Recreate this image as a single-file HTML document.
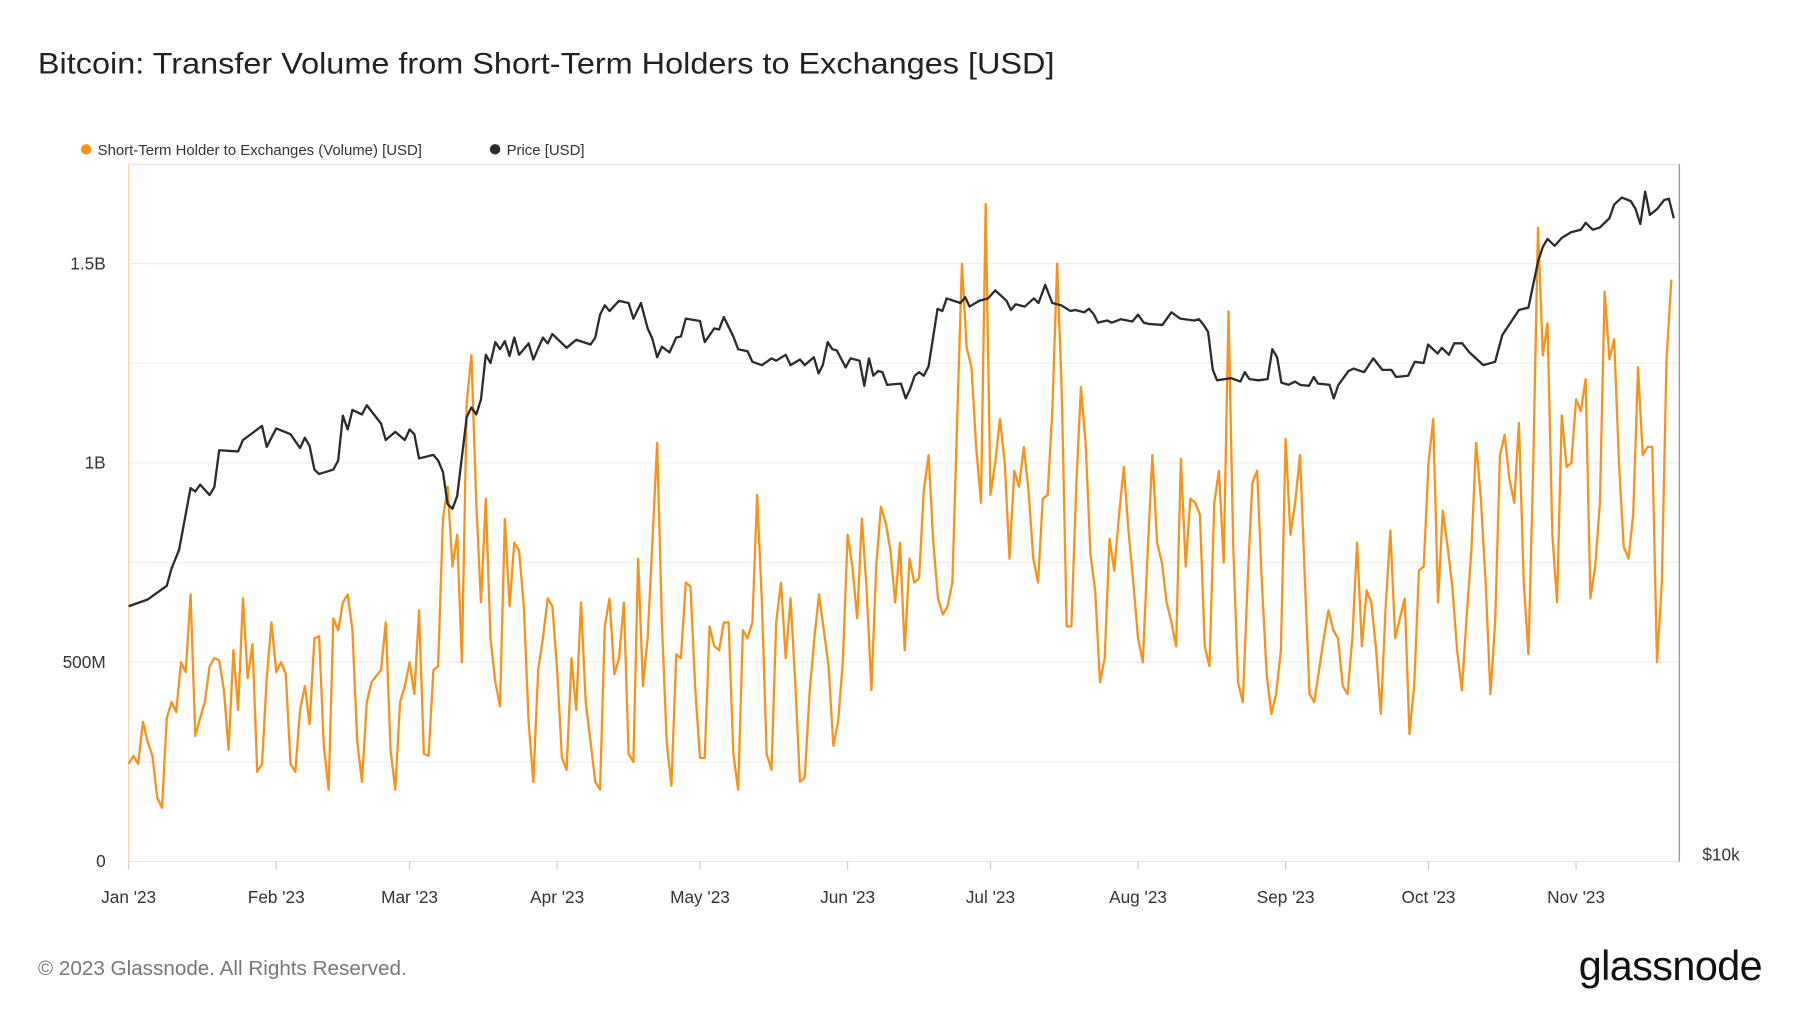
<!DOCTYPE html>
<html><head><meta charset="utf-8">
<style>
html,body{margin:0;padding:0;background:#fff;}
svg{display:block;font-family:"Liberation Sans",sans-serif;}
</style></head>
<body>
<svg id="chart" width="1800" height="1013" viewBox="0 0 1567 881.9" preserveAspectRatio="none" xmlns="http://www.w3.org/2000/svg">
<rect width="1567" height="881.9" fill="#fff"/>
<text x="33" y="64" font-size="26" fill="#222" textLength="885" lengthAdjust="spacingAndGlyphs">Bitcoin: Transfer Volume from Short-Term Holders to Exchanges [USD]</text>
<g>
<circle cx="75" cy="130" r="4.5" fill="#f7931a"/>
<text x="85" y="135" font-size="13" fill="#333">Short-Term Holder to Exchanges (Volume) [USD]</text>
<circle cx="431" cy="130" r="4.5" fill="#2b2b2b"/>
<text x="441" y="135" font-size="13" fill="#333">Price [USD]</text>
</g>
<g id="grid"></g>
<rect x="112" y="143" width="1350" height="607" fill="none" stroke="#e6e6e6" stroke-width="1"/>
<line x1="112" y1="143" x2="112" y2="750" stroke="#f5d7a8" stroke-width="1.2"/>
<line x1="1462" y1="143" x2="1462" y2="750" stroke="#999" stroke-width="1.2"/>
<g id="yticks"></g>
<g id="xticks"></g>
<text x="1482" y="749" font-size="15" fill="#333">$10k</text>
<path id="vol" fill="none" stroke="#f7931a" stroke-width="2" stroke-linejoin="round"/>
<path id="price" fill="none" stroke="#2b2b2b" stroke-width="2" stroke-linejoin="round"/>
<text x="33" y="849" font-size="18" fill="#777">© 2023 Glassnode. All Rights Reserved.</text>
<text x="1534" y="853" font-size="36" text-anchor="end" fill="#111" letter-spacing="-0.5">glassnode</text>
</svg>
<script>
const volJan=[245,265,245,350,300,265,160,135,360,400,375,500,475,670,315,360,400,490,510,505,430,280,530,380,660,460,545,225,245,460,600];
const volFeb=[475,500,470,245,225,380,440,345,560,565,290,180,610,580,650,670,580,300,200,400,450,465,480,600,280,180,400,440];
const volMar=[500,420,630,270,265,480,490,860,940,740,820,500,1150,1270,900,650,910,560,450,390,860,640,800,780,640,350,200,480,560,660,640];
const volApr=[480,260,230,510,380,650,400,300,200,180,590,660,470,510,650,270,250,760,440,560,800,1050,600,300,190,520,510,700,690,430];
const volMay=[260,260,590,540,530,600,600,270,180,580,560,600,920,650,270,230,600,700,510,660,450,200,210,420,560,670,580,490,290,350,500];
const volJun=[820,740,610,860,680,430,740,890,850,780,650,800,530,760,700,710,930,1020,800,660,620,640,700,1100,1500,1290,1240,1040,900,1650];
const volJul=[920,1000,1110,1000,760,980,940,1040,930,760,700,910,920,1130,1500,1170,590,590,940,1190,1050,770,680,450,510,810,730,870,990,830,700];
const volAug=[560,500,770,1020,800,750,650,600,540,1010,740,910,900,870,540,490,900,980,750,1380,790,450,400,700,950,980,700,470,370,420,530];
const volSep=[1060,820,900,1020,720,420,400,480,560,630,580,560,440,420,560,800,540,680,650,530,370,640,830,560,610,660,320,440,730,740];
const volOct=[1000,1110,650,880,790,690,530,430,610,780,1050,910,700,420,600,1020,1070,960,900,1100,700,520,1000,1590,1270,1350,820,650,1120,990,1000];
const volNov=[1160,1130,1210,660,740,900,1430,1260,1310,1000,790,760,870,1240,1020,1040,1040,500,700,1260,1460];
const volume=[].concat(volJan,volFeb,volMar,volApr,volMay,volJun,volJul,volAug,volSep,volOct,volNov);
const priceDays=[0,4,8,9,10.6,13,14,15,17,18,19,23,24,28,29,31,34,36,37,38,39,40,43,44,45,46,47,49,50,53,54,56,58,59,60,61,64,65,66,67,68,69,71,72,73,74,75,76,77,78,79,80,81,82,84,85,87,88,89,92,94,97,98,99,100,101,103,105,106,107.6,109,110,111,112,113.6,115,116,117,120,121,123,124,125,127,128,130,131,133,135,136,138,139,141,142,143.9,144.9,145.8,146.8,147.8,148.7,150.6,151.6,153.5,154.5,155.5,156.4,157.4,158.3,159.3,162.2,163.2,164.1,165.1,166.0,167.0,168.0,169.9,170.9,171.8,174.7,175.7,176.6,178.6,180.5,182.0,184.4,185.3,186.3,188.2,190.1,191.1,192.5,194.0,195.9,197.8,198.8,200.7,201.7,202.6,203.6,205.5,206.5,208.4,210.8,212.0,213.2,214.2,217.1,219.0,220.9,223.8,224.8,225.8,226.7,227.7,228.6,231.5,233.5,234.4,235.4,237.3,239.2,240.2,241.2,242.1,243.6,245.0,246.0,247.9,248.9,249.8,252.2,253.1,254.1,256.2,257.3,259.5,261.4,263.3,265.2,266.2,268.7,270.1,272.0,272.9,274.9,275.8,277.3,278.4,280.1,281.6,284.5,287,288.5,292,294,296,297,298,299.5,301,303,305,306,307.5,309,311,312,313.6,315.5,316.5,317.5,318.5,319.5,321,322.5,323.5,324.5];
const priceK=[16.44,16.66,17.11,17.69,18.35,20.70,20.56,20.84,20.42,20.74,22.28,22.23,22.73,23.36,22.43,23.25,22.99,22.38,22.83,22.47,21.46,21.27,21.46,21.84,23.83,23.20,24.10,23.89,24.32,23.47,22.73,23.09,22.73,23.20,22.99,21.93,22.08,21.84,21.36,20.06,19.88,20.38,23.77,24.22,23.89,24.59,26.83,26.41,27.50,27.13,27.56,26.77,27.75,26.83,27.44,26.59,27.75,27.44,27.94,27.20,27.63,27.38,27.75,29.02,29.55,29.22,29.81,29.68,28.79,29.68,28.25,27.69,26.71,27.26,26.96,27.75,27.81,28.79,28.66,27.50,28.25,28.19,28.88,27.81,27.13,27.02,26.47,26.30,26.65,26.53,26.83,26.30,26.59,26.30,26.71,25.88,26.30,27.50,27.13,27.07,26.18,26.65,26.53,25.26,26.65,25.76,26.00,25.94,25.31,25.37,24.65,25.09,25.76,25.94,25.76,26.24,29.35,29.22,29.95,29.68,30.02,29.48,29.81,29.95,30.42,29.81,29.28,29.61,29.48,29.95,29.68,30.75,29.68,29.55,29.22,29.28,29.15,29.35,29.08,28.57,28.69,28.57,28.76,28.63,29.02,28.57,28.50,28.44,29.15,28.79,28.69,28.76,28.44,28.06,26.06,25.53,25.64,25.47,25.94,25.59,25.53,25.59,27.13,26.71,25.42,25.31,25.47,25.31,25.26,25.70,25.37,25.31,24.65,25.31,26.00,26.12,25.94,26.65,26.06,26.06,25.70,25.76,26.47,26.41,27.38,26.90,27.20,26.83,27.44,27.44,26.96,26.30,26.47,27.88,29.28,29.42,32.17,33.11,33.63,33.18,33.70,34.08,34.24,34.70,34.24,34.39,35.01,35.96,36.45,36.20,35.64,34.62,36.88,35.24,35.64,36.28,36.37,35.01];
const yTickVals=[0,500,1000,1500];
const yTickLabels=["0","500M","1B","1.5B"];
const gridVals=[250,500,750,1000,1250,1500];
const monthLabels=["Jan '23","Feb '23","Mar '23","Apr '23","May '23","Jun '23","Jul '23","Aug '23","Sep '23","Oct '23","Nov '23"];
const monthStartDays=[0,31,59,90,120,151,181,212,243,273,304];

const X0=112,PXD=4.145,Y0=750,PXM=0.347,PDEC=1029;
const xDay=d=>X0+d*PXD;
const yVol=v=>Y0-v*PXM;
const yPrice=k=>Y0-Math.log10(k*1000/10000)*PDEC;
const NS="http://www.w3.org/2000/svg";
function mk(tag,attrs,parent){const e=document.createElementNS(NS,tag);for(const k in attrs)e.setAttribute(k,attrs[k]);parent.appendChild(e);return e;}

const grid=document.getElementById('grid');
gridVals.forEach(v=>{
  const l=mk('line',{x1:112,x2:1462,y1:yVol(v),y2:yVol(v),stroke:'#eeeeee','stroke-width':1},grid);
  
  
});
const yt=document.getElementById('yticks');
yTickVals.forEach((v,i)=>{
  const t=mk('text',{x:92,y:yVol(v)+5,'font-size':15,'text-anchor':'end',fill:'#333'},yt);
  t.textContent=yTickLabels[i];
  
  
});
const xt=document.getElementById('xticks');
monthStartDays.forEach((d,i)=>{
  const x=xDay(d);
  const l=mk('line',{x1:x,x2:x,y1:750,y2:757,stroke:'#ccc','stroke-width':1},xt);
  
  
  const t=mk('text',{x:x,y:786,'font-size':15,'text-anchor':'middle',fill:'#333'},xt);
  t.textContent=monthLabels[i];
  
  
});
document.getElementById('vol').setAttribute('d',volume.map((v,i)=>(i?'L':'M')+xDay(i).toFixed(1)+','+yVol(v).toFixed(1)).join(''));
document.getElementById('price').setAttribute('d',priceK.map((k,i)=>(i?'L':'M')+xDay(priceDays[i]).toFixed(1)+','+yPrice(k).toFixed(1)).join(''));
</script>
</body></html>
